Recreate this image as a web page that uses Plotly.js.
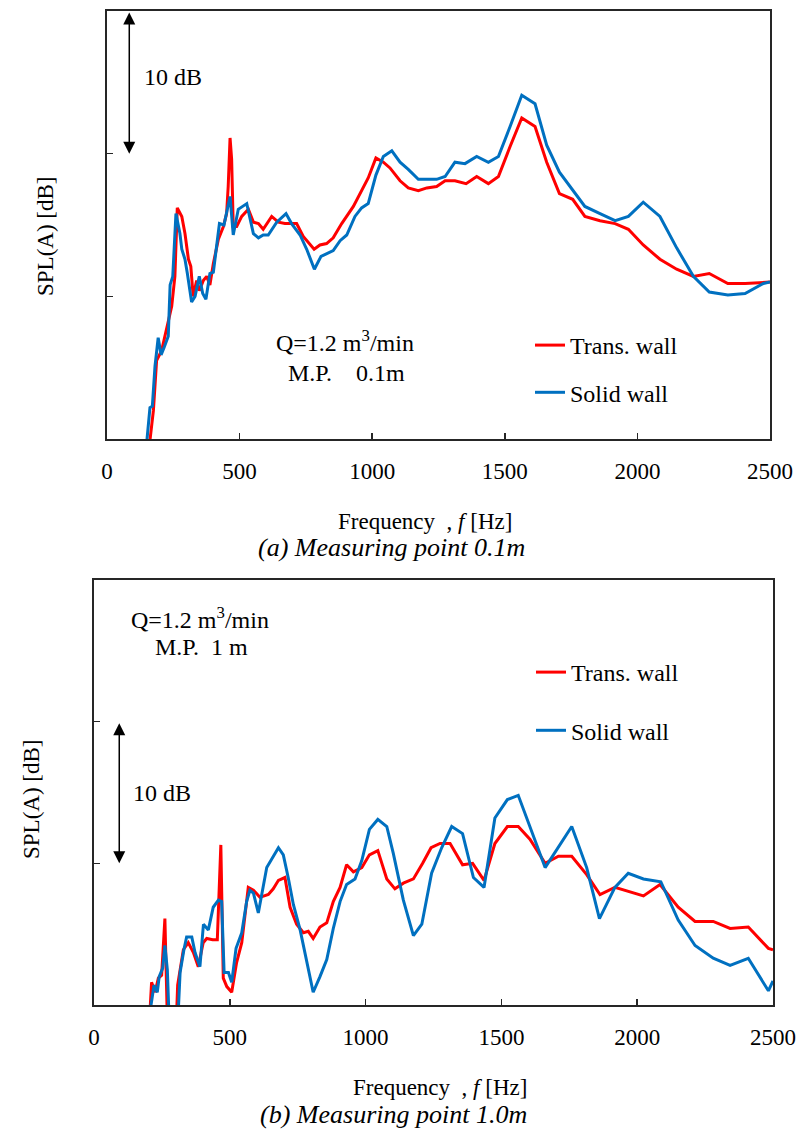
<!DOCTYPE html>
<html>
<head>
<meta charset="utf-8">
<script src="https://cdn.plot.ly/plotly-3.0.1.min.js"></script>
<style>
  html, body { margin: 0; padding: 0; background: #ffffff; }
  #chart { width: 796px; height: 1138px; }
</style>
</head>
<body>
<div id="chart"></div>
<script>
// ---- (a) measuring point 0.1 m : frequency [Hz] / SPL(A) [dB] ----
const freqA_trans = [155,162,175,187,206,219,231,244,256,265,282,294,307,316,325,338,348,363,376,388,401,420,439,451,457,464,470,476,489,508,533,552,571,589,621,646,671,715,740,759,781,803,828,853,885,929,954,985,1014,1042,1067,1105,1136,1174,1206,1243,1275,1312,1354,1394,1438,1476,1520,1564,1614,1658,1706,1756,1802,1859,1916,1966,2022,2085,2148,2211,2271,2341,2406,2475,2500];
const splA_trans  = [39.2,39.9,42.0,45.5,46.2,47.2,48.1,49.3,51.4,56.2,55.6,54.4,52.6,52.1,50.0,51.1,50.4,51.1,51.4,50.8,52.3,54.0,54.9,55.8,57.7,61.1,59.6,54.9,54.9,55.6,56.1,55.2,55.1,54.7,55.6,55.2,55.1,55.1,54.2,53.8,53.3,53.6,53.7,54.1,55.1,56.3,57.2,58.3,59.7,59.4,59.0,58.1,57.6,57.4,57.6,57.7,58.1,58.1,57.9,58.4,57.9,58.4,60.5,62.5,61.9,59.4,57.2,56.8,55.6,55.3,55.1,54.7,53.6,52.6,51.9,51.4,51.6,50.9,50.9,51.0,51.0];

const freqA_solid = [147,162,171,181,193,204,215,225,231,238,248,260,275,282,294,303,319,332,348,361,373,388,401,424,441,464,476,495,527,552,571,589,608,640,675,696,728,753,782,807,828,853,879,904,935,960,985,1014,1042,1074,1105,1136,1174,1206,1243,1275,1312,1350,1394,1438,1476,1520,1564,1614,1658,1706,1753,1802,1859,1916,1966,2022,2085,2148,2211,2271,2341,2406,2475,2500];
const splA_solid  = [39.2,42.2,42.3,45.1,47.1,45.9,46.4,46.9,47.2,50.8,51.4,55.8,54.4,53.3,52.6,51.6,49.6,50.0,51.4,50.2,49.8,51.6,51.7,55.1,55.0,57.0,54.3,56.1,56.5,54.4,54.1,54.3,54.3,55.2,55.8,55.1,54.3,53.3,51.9,52.8,53.0,53.2,53.9,54.3,55.6,56.2,56.5,58.5,59.8,60.2,59.4,58.9,58.2,58.2,58.2,58.4,59.4,59.3,59.8,59.4,59.8,61.9,64.1,63.5,60.6,58.7,57.5,56.3,55.8,55.3,55.6,56.6,55.6,53.4,51.4,50.3,50.1,50.2,50.9,51.0];

// ---- (b) measuring point 1.0 m ----
const freqB_trans = [206,212,225,237,249,261,271,302,308,329,347,366,384,402,415,437,454,467,476,489,507,525,544,568,587,611,642,660,679,703,722,746,771,789,807,832,857,881,906,930,955,986,1014,1045,1078,1108,1139,1176,1210,1241,1274,1311,1357,1394,1436,1476,1522,1562,1605,1661,1710,1759,1814,1863,1918,1974,2023,2084,2151,2213,2280,2342,2409,2483,2500];
const splB_trans  = [39.5,41.6,40.9,41.9,42.1,46.1,38.2,38.2,41.4,43.9,44.4,43.7,42.7,44.4,44.7,44.6,44.6,51.3,41.9,41.3,40.9,43.0,44.4,48.3,48.1,47.6,47.8,48.2,48.8,49.0,46.9,45.7,45.1,45.2,44.7,45.5,45.8,47.3,48.3,49.9,49.4,49.7,50.6,50.9,48.9,48.2,48.6,48.9,50.0,51.1,51.4,51.4,49.9,50.0,48.8,51.4,52.6,52.6,51.7,50.0,50.5,50.5,49.2,47.8,48.3,48.0,47.7,48.5,46.9,45.9,45.9,45.4,45.5,44.0,43.9];

const freqB_solid = [206,221,233,240,253,261,270,278,307,317,331,341,360,372,390,403,421,439,458,470,479,495,507,523,544,562,574,587,605,636,679,697,715,734,759,783,807,832,857,881,906,930,961,986,1014,1045,1078,1102,1139,1176,1207,1243,1280,1317,1357,1397,1436,1476,1522,1562,1661,1759,1814,1861,1918,1967,2023,2087,2151,2213,2280,2342,2409,2483,2500];
const splB_solid  = [39.5,41.4,40.9,42.0,42.6,44.2,42.5,38.2,38.2,42.3,43.9,44.8,44.8,43.7,42.7,45.7,45.3,46.9,47.4,47.3,42.3,42.3,41.6,44.0,45.1,47.3,48.1,47.9,46.5,49.7,51.1,50.6,49.0,47.1,45.3,43.2,40.9,42.0,43.2,45.4,47.3,48.5,48.9,50.2,52.4,53.1,52.6,50.7,47.4,44.9,45.7,49.3,51.1,52.6,52.1,49.0,48.3,53.2,54.5,54.8,49.7,52.6,49.7,46.1,48.3,49.3,48.9,48.7,46.0,44.2,43.3,42.8,43.3,41.0,41.7];

const xTicks = [0, 500, 1000, 1500, 2000, 2500];
const yRange = [40, 70];
const yTicks = [50, 60];
const seriesNames = ['Trans. wall', 'Solid wall'];
const seriesColors = ['#ff0000', '#0070c0'];

// ---- page geometry (pixels -> paper fractions) ----
const W = 796, H = 1138;
const fx = p => p / W;
const fy = p => 1 - p / H;
const FONT = '"Liberation Serif", "Times New Roman", Times, serif';
const FRAME = '#262626';

function xAxis(domain, anchor) {
  return {
    domain: domain, anchor: anchor, range: [0, 2500], tickvals: xTicks,
    ticks: 'inside', ticklen: 6, tickwidth: 1.5, tickcolor: FRAME,
    showline: true, mirror: true, linecolor: FRAME, linewidth: 2,
    showgrid: false, zeroline: false, fixedrange: true,
    ticklabelstandoff: 10,
    tickfont: { family: FONT, size: 23, color: '#000' }
  };
}
function yAxis(domain, anchor) {
  return {
    domain: domain, anchor: anchor, range: yRange, tickvals: yTicks,
    ticks: 'inside', ticklen: 6, tickwidth: 1.5, tickcolor: FRAME,
    showline: true, mirror: true, linecolor: FRAME, linewidth: 2,
    showgrid: false, zeroline: false, fixedrange: true, showticklabels: false
  };
}

function line(x, y, i, xa, ya, legendId, group) {
  return {
    type: 'scatter', mode: 'lines', x: x, y: y, name: seriesNames[i],
    xaxis: xa, yaxis: ya, legend: legendId, legendgroup: group,
    line: { color: seriesColors[i], width: 3 }, hoverinfo: 'skip'
  };
}

const data = [
  line(freqA_trans, splA_trans, 0, 'x', 'y', 'legend', 'a0'),
  line(freqA_solid, splA_solid, 1, 'x', 'y', 'legend', 'a1'),
  line(freqB_trans, splB_trans, 0, 'x2', 'y2', 'legend2', 'b0'),
  line(freqB_solid, splB_solid, 1, 'x2', 'y2', 'legend2', 'b1')
];

function txt(text, x, y, xref, yref, size, extra) {
  return Object.assign({
    text: text, x: x, y: y, xref: xref, yref: yref, showarrow: false,
    xanchor: 'center', yanchor: 'middle',
    font: { family: FONT, size: size, color: '#000' }
  }, extra || {});
}
function scaleArrow(x, y0, y1, xref, yref) {
  return {
    text: '', x: x, y: y0, ax: x, ay: y1, xref: xref, yref: yref, axref: xref, ayref: yref,
    showarrow: true, arrowside: 'end+start', arrowhead: 2, startarrowhead: 2,
    arrowsize: 1.6, startarrowsize: 1.6, arrowwidth: 1.5, arrowcolor: '#000',
    standoff: 0, startstandoff: 0
  };
}

const annotations = [
  // (a)
  scaleArrow(84, 60, 70, 'x', 'y'),
  txt('10 dB', 247, 65.4, 'x', 'y', 24),
  txt('Q=1.2 m<sup>3</sup>/min', 899, 46.9, 'x', 'y', 24),
  txt('M.P.\u00a0\u00a0\u00a0\u00a00.1m', 903, 44.6, 'x', 'y', 24),
  txt('SPL(A) [dB]', fx(45), fy(237), 'paper', 'paper', 23, { textangle: -90 }),
  txt('Frequency \u00a0, <i>f</i> [Hz]', fx(425), fy(521), 'paper', 'paper', 23),
  txt('<i>(a) Measuring point 0.1m</i>', fx(391), fy(547), 'paper', 'paper', 26),
  // (b)
  scaleArrow(93, 50, 60, 'x2', 'y2'),
  txt('10 dB', 250, 55.0, 'x2', 'y2', 24),
  txt('Q=1.2 m<sup>3</sup>/min', 392, 67.3, 'x2', 'y2', 24),
  txt('M.P.\u00a0\u00a01 m', 396, 65.3, 'x2', 'y2', 24),
  txt('SPL(A) [dB]', fx(31), fy(800), 'paper', 'paper', 23, { textangle: -90 }),
  txt('Frequency \u00a0, <i>f</i> [Hz]', fx(440), fy(1087), 'paper', 'paper', 23),
  txt('<i>(b) Measuring point 1.0m</i>', fx(393), fy(1114), 'paper', 'paper', 26)
];

const legendBase = {
  bgcolor: 'rgba(0,0,0,0)', borderwidth: 0, traceorder: 'grouped',
  font: { family: FONT, size: 24, color: '#000' },
  xanchor: 'left', yanchor: 'top', itemclick: false, itemdoubleclick: false
};

const layout = {
  width: W, height: H,
  margin: { l: 0, r: 0, t: 0, b: 0 },
  paper_bgcolor: '#ffffff', plot_bgcolor: '#ffffff',
  font: { family: FONT, color: '#000' },
  showlegend: true,
  xaxis: xAxis([fx(107), fx(770)], 'y'),
  yaxis: yAxis([fy(439), fy(11)], 'x'),
  xaxis2: xAxis([fx(94), fx(773)], 'y2'),
  yaxis2: yAxis([fy(1005), fy(580)], 'x2'),
  legend: Object.assign({}, legendBase, { x: fx(530), y: fy(323), tracegroupgap: 13 }),
  legend2: Object.assign({}, legendBase, { x: fx(531), y: fy(650), tracegroupgap: 24 }),
  annotations: annotations
};

Plotly.newPlot('chart', data, layout, { displayModeBar: false, staticPlot: true });
</script>
</body>
</html>
